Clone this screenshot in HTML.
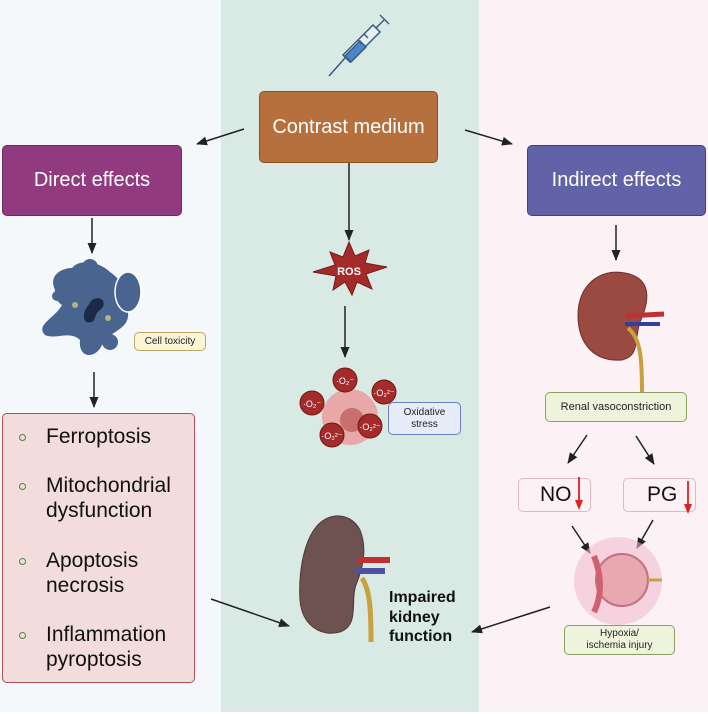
<!DOCTYPE html>
<html><head><style>
body{margin:0;width:708px;height:714px;background:#fff;position:relative;font-family:"Liberation Sans",sans-serif;overflow:hidden}
.a{position:absolute}
.box{position:absolute;color:#fff;display:flex;align-items:center;justify-content:center;border-radius:5px;font-size:20px;box-sizing:border-box}
.lbl{position:absolute;font-size:10px;text-align:center;border-radius:5px;display:flex;align-items:center;justify-content:center;line-height:12px;color:#222;box-sizing:border-box}
.li{position:absolute;left:46px;font-size:21px;line-height:25px;color:#111}
.dot{position:absolute;left:19px;width:5px;height:5px;border:1.3px solid #4a8a3a;border-radius:50%}
</style></head><body>
<div class="a" style="left:0;top:0;width:221px;height:712px;background:#f4f8fb"></div>
<div class="a" style="left:221px;top:0;width:258px;height:712px;background:#d8eae3"></div>
<div class="a" style="left:479px;top:0;width:229px;height:712px;background:#fcf1f4"></div>

<div class="box" style="left:259px;top:91px;width:179px;height:72px;background:#b5703d;border:1px solid #8a5020">Contrast medium</div>
<div class="box" style="left:2px;top:145px;width:180px;height:71px;background:#923a80;border:1px solid #6e2a60">Direct effects</div>
<div class="box" style="left:527px;top:145px;width:179px;height:71px;background:#6262a8;border:1px solid #404080">Indirect effects</div>

<div class="a" style="left:2px;top:413px;width:193px;height:270px;background:#f2dcdc;border:1px solid #b84e55;border-radius:5px;box-sizing:border-box"></div>
<div class="dot" style="top:434px"></div><div class="li" style="top:424px">Ferroptosis</div>
<div class="dot" style="top:483px"></div><div class="li" style="top:473px">Mitochondrial<br>dysfunction</div>
<div class="dot" style="top:558px"></div><div class="li" style="top:548px">Apoptosis<br>necrosis</div>
<div class="dot" style="top:632px"></div><div class="li" style="top:622px">Inflammation<br>pyroptosis</div>

<svg class="a" style="left:0;top:0" width="708" height="714">
<defs><marker id="m" markerWidth="11" markerHeight="10" refX="10" refY="5" orient="auto" markerUnits="userSpaceOnUse"><path d="M0,0.5L11,5L0,9.5z" fill="#222"/></marker></defs>
<g stroke="#222" stroke-width="1.5" fill="none" marker-end="url(#m)">
<line x1="244" y1="129" x2="197" y2="144"/>
<line x1="465" y1="130" x2="512" y2="144"/>
<line x1="92" y1="218" x2="92" y2="253"/>
<line x1="349" y1="163" x2="349" y2="240"/>
<line x1="616" y1="225" x2="616" y2="260"/>
<line x1="94" y1="372" x2="94" y2="407"/>
<line x1="345" y1="306" x2="345" y2="357"/>
<line x1="587" y1="435" x2="568" y2="463"/>
<line x1="636" y1="436" x2="654" y2="464"/>
<line x1="572" y1="526" x2="590" y2="553"/>
<line x1="653" y1="520" x2="637" y2="548"/>
<line x1="211" y1="599" x2="289" y2="626"/>
<line x1="550" y1="607" x2="472" y2="632"/>
</g>
<g stroke="#3a5a80" stroke-width="1.5" fill="none">
<line x1="329" y1="76" x2="345" y2="58"/>
<path d="M343,55 L373,25 L380,32 L350,62 Z" fill="#e6f0ee"/>
<path d="M345,56 L360,41 L366,47 L351,62Z" fill="#4a86c8"/>
<line x1="376" y1="28" x2="384" y2="20"/>
<line x1="380" y1="15" x2="389" y2="24"/>
<line x1="358" y1="40" x2="362" y2="44"/><line x1="364" y1="34" x2="368" y2="38"/>
</g>
<g fill="#4a6490">
<path d="M55,290 C48,275 62,268 72,268 C80,258 100,262 110,272 C122,280 130,295 128,312 C130,330 110,330 102,345 C95,360 78,358 80,340 C70,330 55,340 45,335 C35,325 55,318 62,305 C55,300 55,295 55,290Z"/>
<ellipse cx="128" cy="292" rx="13" ry="20" stroke="#fff" stroke-width="1.5"/>
<circle cx="90" cy="267" r="8"/>
<circle cx="57" cy="296" r="5"/>
<circle cx="110" cy="342" r="8"/>
</g>
<path d="M92,300 c10,-6 16,4 8,10 c-8,6 -2,14 -14,12 c-6,-8 2,-16 6,-22z" fill="#1c2a48"/>
<circle cx="75" cy="305" r="3" fill="#b8b088"/><circle cx="108" cy="318" r="3" fill="#b8b088"/>
<polygon points="349,242 355,256 369,250 365,263 387,267 366,274 372,289 357,282 352,295 345,282 333,290 336,276 313,272 335,265 330,252 343,257" fill="#a52a2a" stroke="#7a1818"/>
<text x="349" y="275" font-size="11" font-weight="bold" fill="#fff" text-anchor="middle">ROS</text>
<circle cx="350" cy="417" r="28" fill="#e8a8a8"/><circle cx="352" cy="420" r="12" fill="#c87070"/>
<g fill="#a52a2a" stroke="#701818"><circle cx="345" cy="380" r="12"/><circle cx="384" cy="392" r="12"/><circle cx="312" cy="403" r="12"/><circle cx="370" cy="426" r="12"/><circle cx="332" cy="435" r="12"/></g>
<g font-size="9" fill="#fff" text-anchor="middle"><text x="345" y="384">·O₂⁻</text><text x="384" y="396">·O₂²⁻</text><text x="312" y="407">·O₂⁻</text><text x="370" y="430">·O₂²⁻</text><text x="332" y="439">·O₂²⁻</text></g>
<path d="M625,273 C600,268 578,285 578,315 C578,345 595,362 622,360 C640,356 634,340 640,322 C650,300 652,278 625,273Z" fill="#9a4a40" stroke="#6a3030"/>
<path d="M625,316 L664,314" stroke="#c03030" stroke-width="5"/><path d="M625,324 L660,324" stroke="#3040a0" stroke-width="4"/>
<path d="M628,328 C640,338 642,355 642,392" stroke="#c8a040" stroke-width="4" fill="none"/>
<path d="M335,516 C305,520 298,570 300,600 C302,625 320,637 340,632 C360,625 350,600 356,585 C362,570 368,550 360,530 C355,520 345,515 335,516Z" fill="#6e5252" stroke="#4e3838"/>
<path d="M358,560 L390,560" stroke="#c03030" stroke-width="6"/><path d="M356,571 L385,571" stroke="#5050a0" stroke-width="6"/>
<path d="M362,578 C370,590 371,610 371,642" stroke="#c8a040" stroke-width="5" fill="none"/>
<circle cx="618" cy="581" r="44" fill="#f0b8cc" opacity=".55"/>
<circle cx="622" cy="580" r="26" fill="#e9a7b0" stroke="#c07080" stroke-width="2"/>
<path d="M594,556 C602,576 602,596 594,612" stroke="#d06070" stroke-width="6" fill="none"/>
<line x1="648" y1="580" x2="662" y2="580" stroke="#c8a040" stroke-width="3"/>
</svg>

<div class="lbl" style="left:134px;top:332px;width:72px;height:19px;background:#fbf5d8;border:1px solid #b8a860">Cell toxicity</div>
<div class="lbl" style="left:388px;top:402px;width:73px;height:33px;background:#e6ecf8;border:1px solid #6a80c0">Oxidative<br>stress</div>
<div class="lbl" style="left:545px;top:392px;width:142px;height:30px;background:#eef3dc;border:1px solid #8aa060;font-size:11px">Renal vasoconstriction</div>
<div class="lbl" style="left:564px;top:625px;width:111px;height:30px;background:#eef3dc;border:1px solid #8aa060">Hypoxia/<br>ischemia injury</div>
<div class="a" style="left:518px;top:478px;width:73px;height:34px;border:1px solid #e0b8c8;border-radius:5px;background:#fcf1f4;box-sizing:border-box;font-size:21px;color:#111;padding:4px 0 0 21px">NO</div>
<div class="a" style="left:623px;top:478px;width:73px;height:34px;border:1px solid #e0b8c8;border-radius:5px;background:#fcf1f4;box-sizing:border-box;font-size:21px;color:#111;padding:4px 0 0 23px">PG</div>
<svg class="a" style="left:0;top:0" width="708" height="714">
<line x1="579" y1="477" x2="579" y2="502" stroke="#d22" stroke-width="1.8"/><path d="M575,500 L583,500 L579,510Z" fill="#d22"/>
<line x1="688" y1="481" x2="688" y2="506" stroke="#d22" stroke-width="1.8"/><path d="M684,504 L692,504 L688,514Z" fill="#d22"/>
</svg>
<div class="a" style="left:389px;top:588px;font-size:16px;font-weight:bold;line-height:19.5px;color:#111">Impaired<br>kidney<br>function</div>
</body></html>
